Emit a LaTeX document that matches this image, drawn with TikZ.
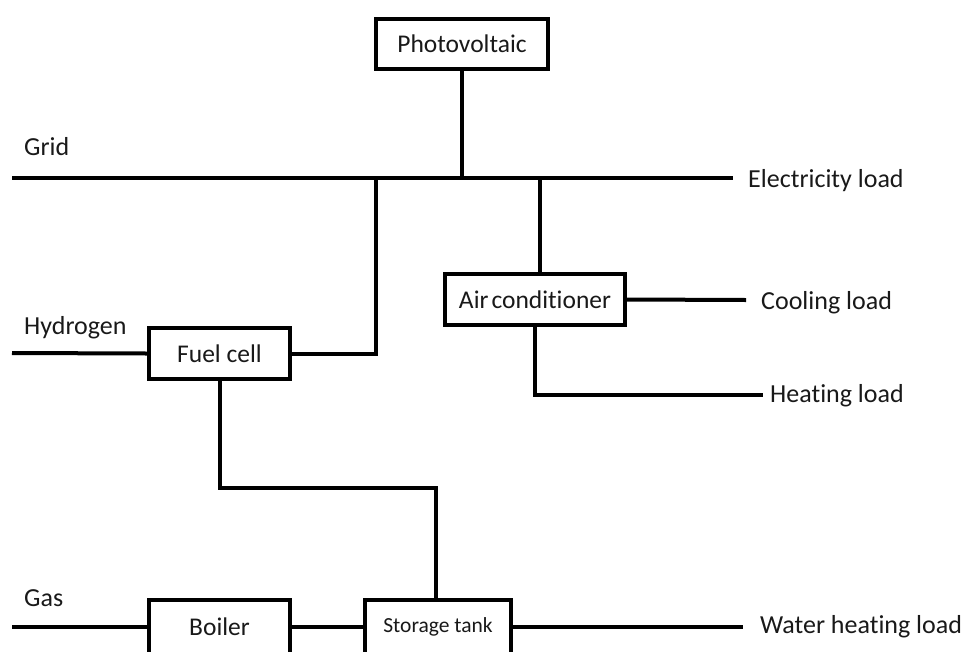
\documentclass[tikz,border=0pt]{standalone}
\usepackage{fontspec}
\setmainfont{Carlito}[Ligatures=NoCommon]
\begin{document}
\begin{tikzpicture}[x=1pt,y=-1pt,
  unit/.style={draw=black,line width=4pt,fill=white,rectangle,inner sep=0pt,
    font=\fontsize{25.5}{28}\selectfont,text=black!90},
  lbl/.style={anchor=west,inner sep=0pt,font=\fontsize{26}{29}\selectfont,text=black!90},
  wire/.style={line width=4pt,line join=miter}]
\useasboundingbox (0,0) rectangle (961,651);
\clip (0,0) rectangle (961,651);

% energy conversion units
\node[unit,minimum width=172pt,minimum height=50pt] (pv) at (462,44) {Photovoltaic};
\node[unit,minimum width=180pt,minimum height=51pt] (ac) at (535,299.5) {Air\hspace{0.12em}conditioner};
\node[unit,minimum width=141pt,minimum height=51pt] (fc) at (219.5,353.5) {Fuel cell};
\node[unit,minimum width=141pt,minimum height=55pt] (boiler) at (219.5,627) {Boiler};
\node[unit,minimum width=146pt,minimum height=55pt,font=\fontsize{21.5}{24}\selectfont] (st) at (438,627) {Storage tank};

% inputs and loads
\node[lbl] (grid) at (24,147) {Grid};
\node[lbl] (h2) at (24,327.5) {Hydrogen};
\node[lbl] (gas) at (24,598) {Gas};
\node[lbl] (elec) at (748,181) {Electricity load};
\node[lbl] (cool) at (761,302.5) {Cooling load};
\node[lbl] (heat) at (770,395.5) {Heating load};
\node[lbl] (water) at (760,627) {Water heating load};

% bus and wire ends
\coordinate (busL) at (12,178);
\coordinate (busR) at (733,178);
\coordinate (jfc) at (376,178);
\coordinate (jac) at (540,178);
\coordinate (h2in) at (12,353);
\coordinate (gasin) at (12,627);
\coordinate (coolout) at (746,300);
\coordinate (heatout) at (763,395);
\coordinate (waterout) at (743,627);
\coordinate (thermal) at (0,488);

% electricity bus
\draw[wire] (busL) -- (busR);
\draw[wire] (pv.south) -- (pv.south |- busL);
\draw[wire] (jfc) |- (fc.east);
\draw[wire] (jac) -- (jac |- ac.north);

% air conditioner outputs
\draw[wire] (ac.east) -- (coolout);
\draw[wire] (ac.south) |- (heatout);

% fuel cell
\draw[wire] (h2in) -- (fc.west);
\draw[wire] (fc.south) -- (fc.south |- thermal) -| ([xshift=-2pt]st.north);

% thermal chain
\draw[wire] (gasin) -- (boiler.west);
\draw[wire] (boiler.east) -- (st.west);
\draw[wire] (st.east) -- (waterout);
\end{tikzpicture}
\end{document}
